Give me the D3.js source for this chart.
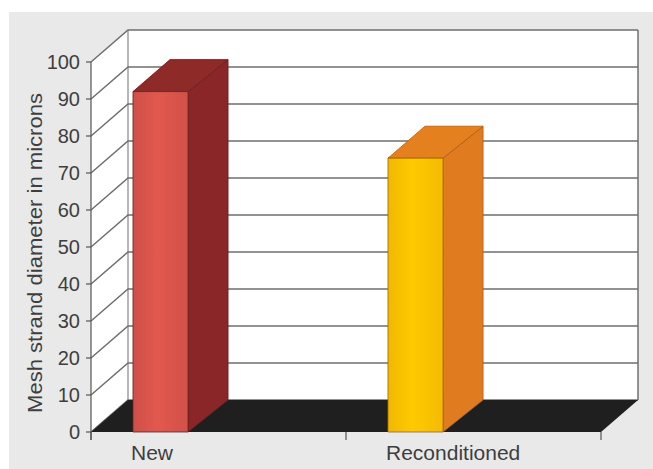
<!DOCTYPE html>
<html><head><meta charset="utf-8">
<script src="https://cdn.jsdelivr.net/npm/d3@7"></script>
<style>body{margin:0;background:#fff}svg{display:block}text{font-family:"Liberation Sans",Arial,sans-serif;fill:#3e3e3e}</style>
</head><body>
<script>
const categories = ["New", "Reconditioned"];
const values = [92, 74];
const yTicks = [0, 10, 20, 30, 40, 50, 60, 70, 80, 90, 100];
const yTitle = "Mesh strand diameter in microns";
const frontColors = ["#d9544b", "#fdc200"];
const sideColors = ["#8a2627", "#e07b1f"];
const topColors = ["#8e2a27", "#e5801f"];

const W = 653, H = 469;
const svg = d3.select("body").append("svg").attr("width", W).attr("height", H);

// depth offsets (oblique projection)
const DX = 37, DY = -32, BDX = 40;

const y = d3.scaleLinear().domain([0, 100]).range([432, 62]);
const xAxis = d3.scaleBand().domain(categories).range([91, 601]);
const xBar = d3.scaleBand().domain(categories).range([91, 601])
  .paddingInner(0.784).paddingOuter(0.392).align(0.21);

// background panel
svg.append("rect").attr("x", 9).attr("y", 12).attr("width", W - 9).attr("height", H - 12).attr("fill", "#e9e9e9");

const x0 = xAxis.range()[0], x1 = xAxis.range()[1];
const y0 = y(0), yTop = y(100);

// back wall
svg.append("rect").attr("x", x0 + DX).attr("y", yTop + DY).attr("width", x1 - x0).attr("height", y0 - yTop)
  .attr("fill", "#fff");
// left wall
svg.append("polygon").attr("points", [[x0, yTop], [x0 + DX, yTop + DY], [x0 + DX, y0 + DY], [x0, y0]].join(" "))
  .attr("fill", "#fff");

// gridlines
const grid = svg.append("g").attr("stroke", "#6f6f6f").attr("stroke-width", 1.5).attr("fill", "none");
yTicks.forEach(v => {
  grid.append("path").attr("d", d3.line()([[x0, y(v)], [x0 + DX, y(v) + DY], [x1 + DX, y(v) + DY]]));
});
grid.append("line").attr("x1", x1 + DX).attr("x2", x1 + DX).attr("y1", yTop + DY).attr("y2", y0 + DY);
grid.append("line").attr("x1", x0 + DX).attr("x2", x0 + DX).attr("y1", yTop + DY).attr("y2", y0 + DY).attr("stroke-width", 1);

// floor
svg.append("polygon").attr("points", [[x0, y0], [x1, y0], [x1 + DX, y0 + DY], [x0 + DX, y0 + DY]].join(" "))
  .attr("fill", "#1f1f1f");

// front gradient defs
const defs = svg.append("defs");
frontColors.forEach((c, i) => {
  const g = defs.append("linearGradient").attr("id", "fg" + i);
  g.append("stop").attr("offset", "0%").attr("stop-color", d3.color(c).darker(0.15));
  g.append("stop").attr("offset", "45%").attr("stop-color", d3.color(c).brighter(0.12));
  g.append("stop").attr("offset", "100%").attr("stop-color", d3.color(c).darker(0.1));
});

// bars
categories.forEach((cat, i) => {
  const bx0 = xBar(cat), bx1 = bx0 + xBar.bandwidth();
  const by = y(values[i]);
  const g = svg.append("g").attr("stroke", d3.color(sideColors[i]).darker(0.8)).attr("stroke-width", 0.8).attr("stroke-linejoin", "round");
  g.append("polygon").attr("points", [[bx1, by], [bx1 + BDX, by + DY], [bx1 + BDX, y0 + DY], [bx1, y0]].join(" "))
    .attr("fill", sideColors[i]);
  g.append("polygon").attr("points", [[bx0, by], [bx0 + BDX - 3, by + DY], [bx1 + BDX, by + DY], [bx1, by]].join(" "))
    .attr("fill", topColors[i]);
  g.append("rect").attr("x", bx0).attr("y", by).attr("width", bx1 - bx0).attr("height", y0 - by)
    .attr("fill", "url(#fg" + i + ")");
});

// y axis
const ax = svg.append("g").attr("stroke", "#555").attr("stroke-width", 1.2);
ax.append("line").attr("x1", x0).attr("x2", x0).attr("y1", yTop).attr("y2", y0 + 8);
yTicks.forEach(v => {
  ax.append("line").attr("x1", x0 - 5).attr("x2", x0).attr("y1", y(v)).attr("y2", y(v));
});
svg.append("g").selectAll("text").data(yTicks).join("text")
  .attr("x", x0 - 11).attr("y", d => y(d)).attr("dy", "0.36em")
  .attr("text-anchor", "end").attr("font-size", 20).text(d => d);

// x axis ticks
const xt = [x0, ...categories.slice(1).map(c => xAxis(c)), x1];
xt.forEach(t => ax.append("line").attr("x1", t).attr("x2", t).attr("y1", y0).attr("y2", y0 + 8));

svg.append("g").selectAll("text").data(categories).join("text")
  .attr("x", d => xAxis(d) + 40).attr("y", 460)
  .attr("font-size", 21).text(d => d);

// y title
svg.append("text").attr("transform", `translate(42,${(y(0) + y(100)) / 2 + 6}) rotate(-90)`)
  .attr("text-anchor", "middle").attr("font-size", 20)
  .attr("textLength", 320).attr("lengthAdjust", "spacingAndGlyphs").text(yTitle);
</script>
</body></html>
